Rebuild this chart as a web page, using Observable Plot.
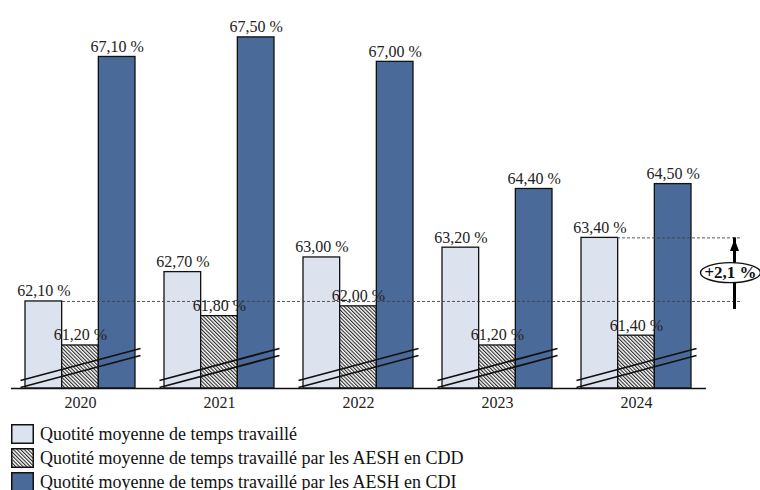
<!DOCTYPE html>
<html>
<head>
<meta charset="utf-8">
<script src="https://cdn.jsdelivr.net/npm/d3@7"></script>
<script src="https://cdn.jsdelivr.net/npm/@observablehq/plot@0.6"></script>
<style>
  html, body { margin: 0; padding: 0; background: #fff; }
  #chart svg { display: block; }
  .legend { font-family: "Liberation Serif", serif; font-size: 18px; color: #111; padding: 4px 0 0 11px; }
  .legend .row { display: flex; align-items: center; height: 24px; }
  .legend svg { margin-right: 6px; flex: none; }
</style>
</head>
<body>
<div id="chart"></div>
<div class="legend" id="legend"></div>
<script>
const years = ["2020", "2021", "2022", "2023", "2024"];
const quotiteTotal = [62.1, 62.7, 63.0, 63.2, 63.4];
const quotiteCDD = [61.2, 61.8, 62.0, 61.2, 61.4];
const quotiteCDI = [67.1, 67.5, 67.0, 64.4, 64.5];
const seriesNames = [
  "Quotité moyenne de temps travaillé",
  "Quotité moyenne de temps travaillé par les AESH en CDD",
  "Quotité moyenne de temps travaillé par les AESH en CDI"
];
const yMin = 60.32, yMax = 68.05;

const lightFill = "#dde3ee";
const darkFill = "#4a6a99";
const hatchFill = "url(#hatch)";

const fmt = v => v.toFixed(2).replace(".", ",") + "\u00a0%";
const rows = (vals) => years.map((y, i) => ({year: y, value: vals[i]}));
const dTotal = rows(quotiteTotal), dCDD = rows(quotiteCDD), dCDI = rows(quotiteCDI);

const growth = (quotiteTotal[4] / quotiteTotal[0] - 1) * 100;
const growthLabel = "+" + growth.toFixed(1).replace(".", ",") + "\u00a0%";

const barW = 36.67;
const breakSymbol = {
  draw(ctx) {
    ctx.moveTo(-60, 12); ctx.lineTo(60, -20);
    ctx.moveTo(-60, 19); ctx.lineTo(60, -13);
  }
};
const ellipseSymbol = {
  draw(ctx) {
    const rx = 30, ry = 10, k = 0.5523;
    ctx.moveTo(rx, 0);
    ctx.bezierCurveTo(rx, ry * k, rx * k, ry, 0, ry);
    ctx.bezierCurveTo(-rx * k, ry, -rx, ry * k, -rx, 0);
    ctx.bezierCurveTo(-rx, -ry * k, -rx * k, -ry, 0, -ry);
    ctx.bezierCurveTo(rx * k, -ry, rx, -ry * k, rx, 0);
    ctx.closePath();
  }
};
const headSymbol = {
  draw(ctx) {
    ctx.moveTo(0, 0); ctx.lineTo(-4.5, 12); ctx.lineTo(4.5, 12); ctx.closePath();
  }
};

const barOpts = {x: "year", y1: () => yMin, y2: "value", stroke: "#111", strokeWidth: 1.3};
const labelOpts = {x: "year", y: "value", text: d => fmt(d.value), lineAnchor: "bottom", dy: -5, fill: "#222", fontSize: 16};

const plot = Plot.plot({
  width: 760, height: 418,
  marginLeft: 11, marginRight: 54, marginTop: 10, marginBottom: 30,
  x: {domain: years, paddingInner: 0.2086, paddingOuter: 0.1043, label: null, tickSize: 0, tickPadding: 8},
  y: {domain: [yMin, yMax], axis: null},
  style: {fontFamily: "Liberation Serif, serif", fontSize: "16px", color: "#222", background: "#fff"},
  marks: [
    Plot.barY(dTotal, {...barOpts, fill: lightFill, insetRight: 2 * barW}),
    Plot.barY(dCDD, {...barOpts, fill: hatchFill, insetLeft: barW, insetRight: barW}),
    Plot.barY(dCDI, {...barOpts, fill: darkFill, insetLeft: 2 * barW}),
    Plot.dot(years, {x: d => d, frameAnchor: "bottom", dy: -20, symbol: breakSymbol, fill: "none", stroke: "#111", strokeWidth: 1.8}),
    Plot.ruleY([yMin], {stroke: "#111", strokeWidth: 1.3}),
    Plot.ruleY([quotiteTotal[0]], {stroke: "#444", strokeWidth: 0.9, strokeDasharray: "3,2", insetLeft: 51, insetRight: -34}),
    Plot.ruleY([quotiteTotal[4]], {stroke: "#444", strokeWidth: 0.9, strokeDasharray: "3,2", insetLeft: 606, insetRight: -34}),
    Plot.ruleX([years[4]], {x: d => d, y1: () => quotiteTotal[0], y2: () => quotiteTotal[4], dx: 98, insetTop: 8, stroke: "#000", strokeWidth: 3}),
    Plot.dot([years[4]], {x: d => d, y: () => quotiteTotal[4], dx: 98, dy: 1, symbol: headSymbol, fill: "#000", stroke: "none"}),
    Plot.dot([years[4]], {x: d => d, y: () => (quotiteTotal[0] + quotiteTotal[4]) / 2, dx: 94, dy: 3, symbol: ellipseSymbol, fill: "#fff", stroke: "#111", strokeWidth: 1.4}),
    Plot.text([years[4]], {x: d => d, y: () => (quotiteTotal[0] + quotiteTotal[4]) / 2, dx: 94, dy: 3, text: () => growthLabel, fontWeight: "bold", fontSize: 17, fill: "#111"}),
    Plot.text(dTotal, {...labelOpts, dx: -barW}),
    Plot.text(dCDD, {...labelOpts}),
    Plot.text(dCDI, {...labelOpts, dx: barW})
  ]
});

const ns = "http://www.w3.org/2000/svg";
const defs = document.createElementNS(ns, "defs");
defs.innerHTML = `<pattern id="hatch" patternUnits="userSpaceOnUse" width="2.6" height="2.6" patternTransform="rotate(-45)">
  <rect width="2.6" height="2.6" fill="#fff"></rect>
  <line x1="0.6" y1="0" x2="0.6" y2="2.6" stroke="#111" stroke-width="1"></line>
</pattern>`;
plot.insertBefore(defs, plot.firstChild);
document.getElementById("chart").appendChild(plot);

const legend = document.getElementById("legend");
const fills = [lightFill, hatchFill, darkFill];
seriesNames.forEach((name, i) => {
  const row = document.createElement("div");
  row.className = "row";
  row.innerHTML = `<svg width="23" height="20"><rect x="0.75" y="0.75" width="21.5" height="18.5" fill="${fills[i]}" stroke="#111" stroke-width="1.5"></rect></svg><span>${name}</span>`;
  legend.appendChild(row);
});
</script>
</body>
</html>
